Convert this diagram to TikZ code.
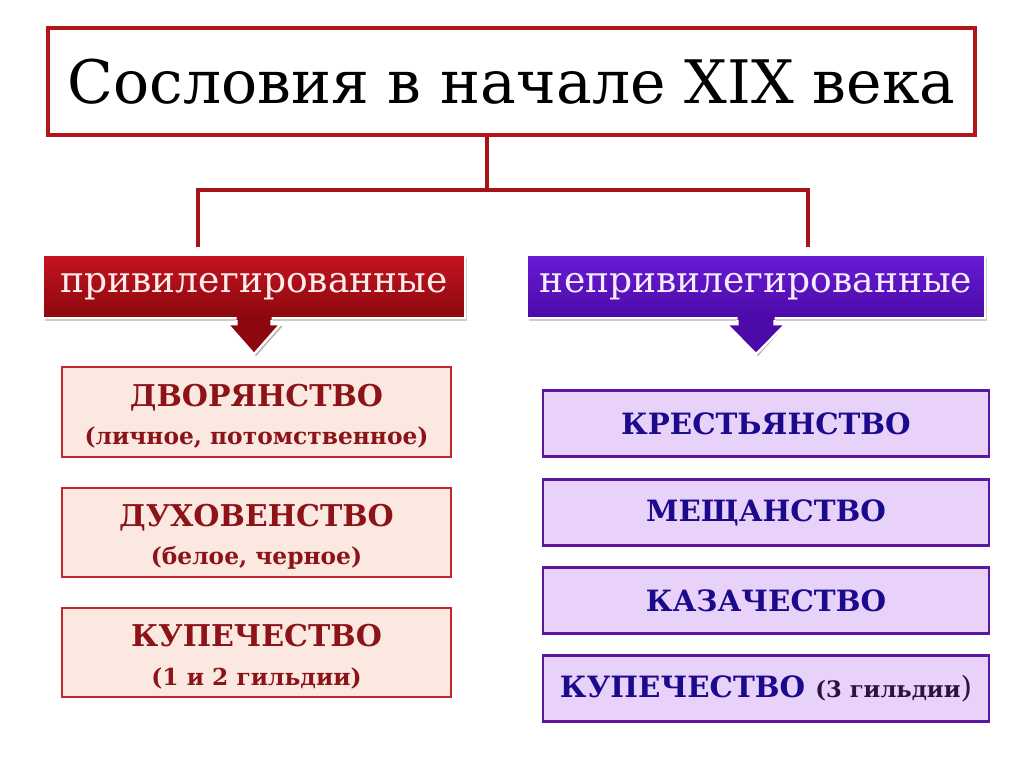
\documentclass[tikz,border=0pt]{standalone}
\usepackage{fontspec}
\setmainfont{DejaVu Serif}
\usetikzlibrary{shadows}
\definecolor{titleRed}{RGB}{176,22,28}
\definecolor{connRed}{RGB}{165,18,24}
\definecolor{bRedTop}{RGB}{196,20,32}
\definecolor{bRedBot}{RGB}{140,8,14}
\definecolor{bRedText}{RGB}{255,236,236}
\definecolor{bPurTop}{RGB}{104,28,212}
\definecolor{bPurBot}{RGB}{76,10,168}
\definecolor{bPurText}{RGB}{246,236,255}
\definecolor{lFill}{RGB}{251,232,224}
\definecolor{lBorder}{RGB}{198,38,42}
\definecolor{lText}{RGB}{140,20,25}
\definecolor{rFill}{RGB}{233,210,250}
\definecolor{rBorder}{RGB}{92,22,162}
\definecolor{rText}{RGB}{28,10,140}
\definecolor{rDark}{RGB}{40,20,60}
\begin{document}
\begin{tikzpicture}[x=0.75pt,y=-0.75pt,
  conn/.style={draw=connRed, line width=3pt},
  titlebox/.style={draw=titleRed, line width=3pt, fill=white, minimum width=695pt, minimum height=80pt, inner sep=0pt, font=\fontsize{45}{50}\selectfont, text=black},
  banner/.style={draw=white, line width=1.8pt, minimum height=47.25pt, inner sep=0pt, drop shadow={opacity=0.4,shadow xshift=1.5pt,shadow yshift=-2pt}, font=\fontsize{27}{32}\selectfont},
  redbanner/.style={banner, top color=bRedTop, bottom color=bRedBot, text=bRedText, minimum width=316.5pt},
  purbanner/.style={banner, top color=bPurTop, bottom color=bPurBot, text=bPurText, minimum width=343.5pt},
  lbox/.style={draw=lBorder, line width=2.2pt, fill=lFill, text=lText, minimum width=291.75pt, minimum height=66.75pt, inner sep=0pt, align=center, font=\bfseries\fontsize{22.5}{29}\selectfont},
  rbox/.style={draw=rBorder, line width=2.2pt, fill=rFill, text=rText, minimum width=334.5pt, minimum height=50pt, inner sep=0pt, align=center, font=\bfseries\fontsize{22}{28}\selectfont}
]
\useasboundingbox[fill=white] (0,0) rectangle (1024,767);

% title
\node[titlebox] (title) at (511.5,81.5) {Сословия в начале XIX века};

% connectors
\coordinate (j) at (487,190);
\coordinate (lt) at (198,247);
\coordinate (rt) at (808,247);
\draw[conn] (title.south -| j) -- (j);
\draw[conn] (lt) |- (j) -| (rt);

% banners
\node[redbanner] (priv) at (254,286.5) {привилегированные};
\node[purbanner] (npriv) at (756,286.5) {непривилегированные};

% banner arrows
\begin{scope}[shift={(priv.south)}]
  \fill[black, opacity=0.3] (-15.5,5) -- (-24.5,7) -- (2,37) -- (28.5,7) -- (19.5,5) -- cycle;
  \fill[bRedBot] (-17.5,-3) -- (-17.5,5) -- (-26.5,5) -- (0,35) -- (26.5,5) -- (17.5,5) -- (17.5,-3) -- cycle;
  \draw[white, line width=1.8pt] (-17.5,1) -- (-17.5,5) -- (-26.5,5) -- (0,35) -- (26.5,5) -- (17.5,5) -- (17.5,1);
\end{scope}
\begin{scope}[shift={(npriv.south)}]
  \fill[black, opacity=0.3] (-15.5,5) -- (-24.5,7) -- (2,37) -- (28.5,7) -- (19.5,5) -- cycle;
  \fill[bPurBot] (-18.5,-3) -- (-18.5,5) -- (-29.5,5) -- (0,35) -- (29.5,5) -- (18.5,5) -- (18.5,-3) -- cycle;
  \draw[white, line width=1.8pt] (-18.5,1) -- (-18.5,5) -- (-29.5,5) -- (0,35) -- (29.5,5) -- (18.5,5) -- (18.5,1);
\end{scope}

% left boxes
\node[lbox, minimum height=67.5pt] (dvor) at (256.5,412) {\rule{0pt}{23pt}ДВОРЯНСТВО\\{\fontsize{17.5}{29}\selectfont (личное, потомственное)}};
\node[lbox] (duh) at (256.5,532.5) {\rule{0pt}{23pt}ДУХОВЕНСТВО\\{\fontsize{17.5}{29}\selectfont (белое, черное)}};
\node[lbox] (kup1) at (256.5,652.5) {\rule{0pt}{23pt}КУПЕЧЕСТВО\\{\fontsize{17.5}{29}\selectfont (1 и 2 гильдии)}};

% right boxes
\node[rbox] (kres) at (766,423.5) {КРЕСТЬЯНСТВО};
\node[rbox] (mesh) at (766,512.5) {МЕЩАНСТВО};
\node[rbox] (kaz) at (766,600.5) {КАЗАЧЕСТВО};
\node[rbox] (kup3) at (766,688.5) {КУПЕЧЕСТВО {\fontsize{17}{28}\selectfont\color{rDark}(3 гильдии}{\mdseries\color{rDark})}};
\end{tikzpicture}
\end{document}
